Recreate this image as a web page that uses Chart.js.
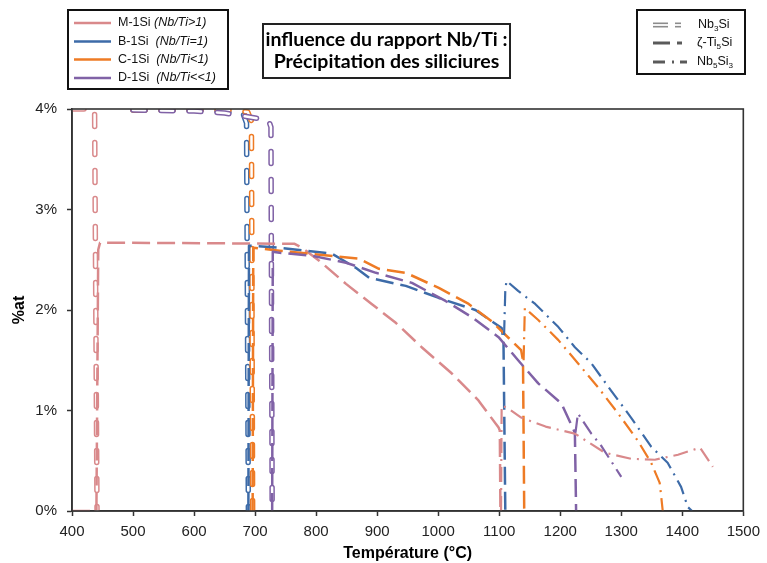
<!DOCTYPE html>
<html>
<head>
<meta charset="utf-8">
<script src="https://cdn.jsdelivr.net/npm/chart.js@4"></script>
<style>
  html, body { margin: 0; padding: 0; background: #fff; }
  #wrap { width: 767px; height: 563px; }
</style>
</head>
<body>
<div id="wrap"><canvas id="chart"></canvas></div>
<script>
// axes
const xTicks = [400, 500, 600, 700, 800, 900, 1000, 1100, 1200, 1300, 1400, 1500];
const yTicks = [0, 1, 2, 3, 4];

// M-1Si (Nb/Ti>1)
const mNb3SiT = [400, 437, 441];
const mNb3SiY = [4.0, 4.0, 0];
const mTi5SiT = [400, 440, 443, 446, 740, 764, 777, 805, 849, 891, 931, 973, 1022, 1066, 1099, 1101, 1102];
const mTi5SiY = [0, 0, 2.6, 2.67, 2.66, 2.66, 2.62, 2.49, 2.26, 2.06, 1.87, 1.63, 1.37, 1.10, 0.83, 0.8, 0];
const mNb5Si3T = [1103, 1104, 1115, 1136, 1176, 1224, 1273, 1316, 1355, 1393, 1429, 1450];
const mNb5Si3Y = [0, 1.05, 1.02, 0.93, 0.84, 0.77, 0.58, 0.52, 0.51, 0.56, 0.63, 0.44];

// B-1Si (Nb/Ti=1)
const bNb3SiT = [500, 600, 680, 686, 689];
const bNb3SiY = [3.99, 3.99, 3.96, 3.86, 0];
const bTi5SiT = [689, 690, 740, 826, 865, 887, 947, 1001, 1061, 1104, 1107, 1110];
const bTi5SiY = [0, 2.64, 2.62, 2.56, 2.42, 2.32, 2.24, 2.12, 2.0, 1.82, 1.7, 0];
const bNb5Si3T = [1108, 1110, 1112, 1131, 1159, 1197, 1224, 1251, 1283, 1316, 1349, 1376, 1398, 1409, 1416];
const bNb5Si3Y = [1.75, 2.2, 2.29, 2.19, 2.06, 1.83, 1.63, 1.47, 1.2, 0.93, 0.64, 0.48, 0.24, 0.04, 0];

// C-1Si (Nb/Ti<1)
const cNb3SiT = [500, 600, 660, 688, 694, 696];
const cNb3SiY = [3.99, 3.99, 3.99, 3.97, 3.88, 0];
const cTi5SiT = [696, 697, 740, 870, 903, 947, 1001, 1050, 1087, 1136, 1139, 1141];
const cTi5SiY = [0, 2.62, 2.59, 2.51, 2.41, 2.37, 2.22, 2.06, 1.89, 1.6, 1.5, 0];
const cNb5Si3T = [1140, 1142, 1164, 1197, 1229, 1262, 1295, 1327, 1349, 1363, 1368];
const cNb5Si3Y = [1.5, 2.02, 1.9, 1.7, 1.47, 1.23, 0.97, 0.7, 0.48, 0.28, 0];

// D-1Si (Nb/Ti<<1)
const dNb3SiT = [500, 600, 650, 700, 722, 726, 728];
const dNb3SiY = [3.99, 3.98, 3.96, 3.91, 3.89, 3.82, 0];
const dTi5SiT = [728, 729, 740, 793, 849, 898, 957, 1012, 1055, 1099, 1131, 1164, 1202, 1221, 1224, 1226];
const dTi5SiY = [0, 2.58, 2.57, 2.54, 2.47, 2.37, 2.27, 2.09, 1.93, 1.73, 1.5, 1.27, 1.07, 0.82, 0.78, 0];
const dNb5Si3T = [1225, 1229, 1251, 1267, 1283, 1300];
const dNb5Si3Y = [0.78, 0.97, 0.77, 0.65, 0.5, 0.34];

const pink = '#d9898b';
const blue = '#3d6ba8';
const orange = '#ee7b25';
const purple = '#8062a6';

function pts(t, y) {
  return t.map((v, i) => ({ x: v, y: y[i] }));
}

const hollowDash = [12, 16];
const longDash = [18, 7];
const dashDot = [15, 6, 2, 6];

// Nb3Si: double line = thick coloured stroke + thin white stroke on top
function hollow(t, y, col) {
  return [
    { data: pts(t, y), borderColor: col, borderWidth: 5.5, borderDash: hollowDash, borderCapStyle: 'round' },
    { data: pts(t, y), borderColor: '#fff', borderWidth: 2.5, borderDash: hollowDash, borderCapStyle: 'round' }
  ];
}
function dashed(t, y, col) {
  return [{ data: pts(t, y), borderColor: col, borderWidth: 2.5, borderDash: longDash }];
}
function dotted(t, y, col) {
  return [{ data: pts(t, y), borderColor: col, borderWidth: 2.2, borderDash: dashDot }];
}

// listed in drawing order (first one drawn first, last one on top)
const list = [
  ...hollow(mNb3SiT, mNb3SiY, pink),
  ...hollow(bNb3SiT, bNb3SiY, blue),
  ...hollow(cNb3SiT, cNb3SiY, orange),
  ...hollow(dNb3SiT, dNb3SiY, purple),
  ...dashed(mTi5SiT, mTi5SiY, pink),
  ...dashed(bTi5SiT, bTi5SiY, blue),
  ...dashed(cTi5SiT, cTi5SiY, orange),
  ...dashed(dTi5SiT, dTi5SiY, purple),
  ...dotted(mNb5Si3T, mNb5Si3Y, pink),
  ...dotted(bNb5Si3T, bNb5Si3Y, blue),
  ...dotted(cNb5Si3T, cNb5Si3Y, orange),
  ...dotted(dNb5Si3T, dNb5Si3Y, purple)
];
const datasets = list.map((d, i) => Object.assign({
  pointRadius: 0, tension: 0, fill: false, borderJoinStyle: 'round', order: list.length - i
}, d));

// draws text with subscripts: parts = [[text, sub?, italic?], ...]
function richText(ctx, parts, x, y, size) {
  parts.forEach(p => {
    const sub = p[1], ital = p[2];
    ctx.font = (ital ? 'italic ' : '') + (sub ? size * 0.65 : size) + 'px "Liberation Sans", Arial, sans-serif';
    ctx.fillText(p[0], x, sub ? y + size * 0.3 : y);
    x += ctx.measureText(p[0]).width;
  });
}

const decor = {
  id: 'decor',
  afterDatasetsDraw(chart) {
    const { ctx, chartArea: a } = chart;
    ctx.save();
    ctx.strokeStyle = '#333';
    ctx.lineWidth = 1.6;
    ctx.strokeRect(a.left, a.top, a.right - a.left, a.bottom - a.top);
    ctx.restore();
  },
  afterDraw(chart) {
    const ctx = chart.ctx;
    ctx.save();
    ctx.textBaseline = 'middle';
    ctx.fillStyle = '#111';

    // left legend
    ctx.strokeStyle = '#111';
    ctx.lineWidth = 2;
    ctx.strokeRect(68, 10, 160, 79);
    const rows = [
      [pink, 'M-1Si ', '(Nb/Ti>1)'],
      [blue, 'B-1Si  ', '(Nb/Ti=1)'],
      [orange, 'C-1Si  ', '(Nb/Ti<1)'],
      [purple, 'D-1Si  ', '(Nb/Ti<<1)']
    ];
    const rowY = [23, 41.5, 59.5, 78];
    rows.forEach((r, i) => {
      const y = rowY[i];
      ctx.strokeStyle = r[0];
      ctx.lineWidth = 2.5;
      ctx.beginPath(); ctx.moveTo(74, y); ctx.lineTo(111, y); ctx.stroke();
      richText(ctx, [[r[1]], [r[2], false, true]], 118, y, 12.5);
    });

    // title box
    ctx.strokeStyle = '#222';
    ctx.lineWidth = 2;
    ctx.strokeRect(263, 24, 247, 54);
    ctx.textAlign = 'center';
    ctx.fillStyle = '#000';
    ctx.font = 'bold 19.5px Lato, "Open Sans", sans-serif';
    ctx.fillText('influence du rapport Nb/Ti :', 386.5, 40);
    ctx.fillText('Précipitation des siliciures', 386.5, 62);
    ctx.textAlign = 'left';

    // right legend
    ctx.strokeStyle = '#111';
    ctx.lineWidth = 2;
    ctx.strokeRect(637, 10, 108, 64);
    const seg = (x1, x2, y, w, c) => {
      ctx.strokeStyle = c; ctx.lineWidth = w;
      ctx.beginPath(); ctx.moveTo(x1, y); ctx.lineTo(x2, y); ctx.stroke();
    };
    seg(653, 668, 25, 5, '#8c8c8c'); seg(652, 669, 25, 1.8, '#fff');
    seg(675, 681, 25, 5, '#8c8c8c'); seg(674, 682, 25, 1.8, '#fff');
    seg(653, 670, 43, 3, '#5a5a5a');
    seg(677, 682, 43, 3, '#5a5a5a');
    seg(653, 665, 62, 3, '#5a5a5a');
    seg(672, 674, 62, 3, '#5a5a5a');
    seg(680, 687, 62, 3, '#5a5a5a');
    ctx.fillStyle = '#111';
    richText(ctx, [['Nb'], ['3', true], ['Si']], 698, 25, 12.5);
    richText(ctx, [['ζ-Ti'], ['5', true], ['Si']], 697, 43, 12.5);
    richText(ctx, [['Nb'], ['5', true], ['Si'], ['3', true]], 697, 62, 12.5);
    ctx.restore();
  }
};

new Chart(document.getElementById('chart'), {
  type: 'line',
  data: { datasets },
  plugins: [decor],
  options: {
    responsive: true,
    maintainAspectRatio: false,
    animation: false,
    layout: { padding: { left: 0, right: 21, top: 109, bottom: 0 } },
    plugins: { legend: { display: false }, tooltip: { enabled: false } },
    scales: {
      x: {
        type: 'linear',
        min: xTicks[0],
        max: xTicks[xTicks.length - 1],
        afterBuildTicks: s => { s.ticks = xTicks.map(v => ({ value: v })); },
        afterFit: s => { s.height = 52; },
        ticks: { color: '#222', padding: 7, callback: v => String(v), font: { family: '"Liberation Sans", Arial', size: 15 } },
        grid: { drawOnChartArea: false, tickLength: 5, color: '#333', tickWidth: 1.5 },
        border: { color: '#333', width: 1.6 },
        title: {
          display: true, text: 'Température (°C)', color: '#000',
          font: { family: '"Liberation Sans", Arial', size: 16, weight: 'bold' },
          padding: { top: 0, bottom: 0 }
        }
      },
      y: {
        min: yTicks[0],
        max: yTicks[yTicks.length - 1],
        afterBuildTicks: s => { s.ticks = yTicks.map(v => ({ value: v })); },
        afterFit: s => { s.width = 72; },
        ticks: { color: '#222', padding: 10, callback: v => v + '%', font: { family: '"Liberation Sans", Arial', size: 15 } },
        grid: { drawOnChartArea: false, tickLength: 5, color: '#333', tickWidth: 1.5 },
        border: { color: '#333', width: 1.6 },
        title: {
          display: true, text: '%at', color: '#000',
          font: { family: '"Liberation Sans", Arial', size: 16, weight: 'bold' },
          padding: { top: 10, bottom: 0 }
        }
      }
    }
  }
});
</script>
</body>
</html>
